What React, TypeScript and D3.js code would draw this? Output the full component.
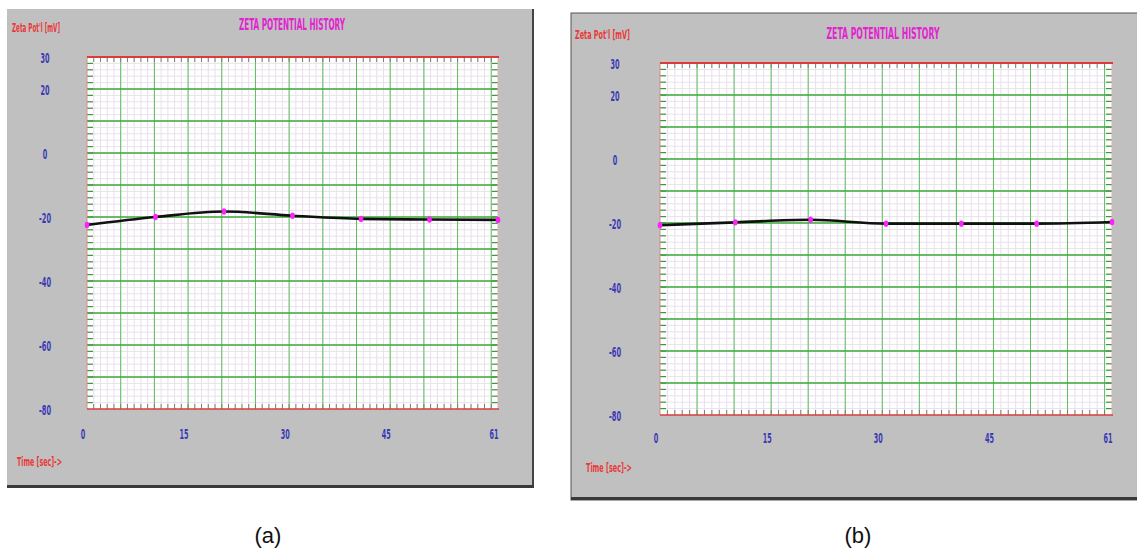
import React from "react";
import * as d3 from "d3";

const timeSec = [0, 10.17, 20.33, 30.5, 40.67, 50.83, 61];
const zetaA = [-22.5, -20.0, -18.3, -19.6, -20.6, -20.8, -20.9];
const zetaB = [-20.7, -19.8, -19.0, -20.2, -20.2, -20.2, -19.7];
const xTickLabels = [0, 15, 30, 45, 61];
const yTickLabels = [30, 20, 0, -20, -40, -60, -80];
const titleText = "ZETA POTENTIAL HISTORY";
const yAxisText = "Zeta Pot'l [mV]";
const xAxisText = "Time [sec]->";
const captions = ["(a)", "(b)"];

const NARROW = "'Liberation Sans Narrow', 'Arial Narrow', 'DejaVu Sans Condensed', 'Liberation Sans', sans-serif";

type Cfg = {
  box: { x: number; y: number; w: number; h: number };
  plot: { x: number; y: number; w: number; h: number };
  title: { cx: number; y: number; w: number };
  yTitle: { x: number; y: number; w: number };
  xTitle: { x: number; y: number; w: number };
  yTickX: number;
  xTickY: number;
  darkBorder: boolean;
};

const cfgA: Cfg = {
  box: { x: 7, y: 9, w: 526, h: 479 },
  plot: { x: 87, y: 57, w: 411, h: 352 },
  title: { cx: 292, y: 24, w: 106 },
  yTitle: { x: 12, y: 27, w: 48 },
  xTitle: { x: 17, y: 461, w: 45 },
  yTickX: 45,
  xTickY: 434,
  darkBorder: false,
};

const cfgB: Cfg = {
  box: { x: 571, y: 13, w: 570, h: 487 },
  plot: { x: 660, y: 63, w: 452, h: 352 },
  title: { cx: 883, y: 33, w: 113 },
  yTitle: { x: 575, y: 34, w: 55 },
  xTitle: { x: 586, y: 467, w: 46 },
  yTickX: 615,
  xTickY: 438,
  darkBorder: true,
};

const labelWidth = (s: string) => {
  let w = 0;
  for (const c of s) w += c === "-" ? 3 : 4.5;
  return w;
};

function Panel({ cfg, values }: { cfg: Cfg; values: number[] }) {
  const { box, plot } = cfg;
  const x = d3.scaleLinear().domain([0, 61]).range([plot.x, plot.x + plot.w]);
  const y = d3.scaleLinear().domain([-80, 30]).range([plot.y + plot.h, plot.y]);
  const minorX = d3.range(1, 61);
  const majorX = d3.range(5, 61, 5);
  const minorY = d3.range(-78, 30, 2);
  const majorY = d3.range(-70, 30, 10);
  const pts = timeSec.map((t, i) => [x(t), y(values[i])] as [number, number]);
  const line = d3.line().curve(d3.curveMonotoneX)(pts) || "";
  const bottom = plot.y + plot.h;
  const right = plot.x + plot.w;

  return (
    <g>
      <rect x={box.x} y={box.y} width={box.w} height={box.h} fill="#c0c0c0"
        stroke={cfg.darkBorder ? "#555" : "none"} strokeWidth={1} />
      {!cfg.darkBorder && (
        <line x1={box.x + box.w} x2={box.x + box.w} y1={box.y} y2={box.y + box.h} stroke="#444" strokeWidth={2} />
      )}
      <rect x={box.x} y={box.y + box.h - 3} width={box.w + 1} height={3} fill="#3a3a3a" />

      <rect x={plot.x} y={plot.y} width={plot.w} height={plot.h} fill="#ffffff" />
      {minorX.map((t) => (
        <line key={"mx" + t} x1={x(t)} x2={x(t)} y1={plot.y} y2={bottom} stroke="#e6e0ea" strokeWidth={1} />
      ))}
      {minorY.map((v) => (
        <line key={"my" + v} x1={plot.x} x2={right} y1={y(v)} y2={y(v)} stroke="#ebe0ec" strokeWidth={1} />
      ))}
      {majorX.map((t) => (
        <line key={"Mx" + t} x1={x(t)} x2={x(t)} y1={plot.y} y2={bottom} stroke="#5cbf5c" strokeWidth={1} />
      ))}
      {majorY.map((v) => (
        <line key={"My" + v} x1={plot.x} x2={right} y1={y(v)} y2={y(v)} stroke="#3aaa3a" strokeWidth={1.5} />
      ))}
      {minorY.map((v) => (
        <g key={"ty" + v}>
          <line x1={plot.x} x2={plot.x + 6} y1={y(v)} y2={y(v)} stroke="#3a9a3a" strokeWidth={1.2} />
          <line x1={right - 6} x2={right} y1={y(v)} y2={y(v)} stroke="#3a9a3a" strokeWidth={1.2} />
        </g>
      ))}
      {minorX.map((t) => (
        <g key={"tx" + t}>
          <line x1={x(t)} x2={x(t)} y1={plot.y} y2={plot.y + 5} stroke="#6a8a6a" strokeWidth={1} />
          <line x1={x(t)} x2={x(t)} y1={bottom - 5} y2={bottom} stroke="#6a8a6a" strokeWidth={1} />
        </g>
      ))}
      <line x1={plot.x} x2={plot.x} y1={plot.y} y2={bottom} stroke="#d88a8a" strokeWidth={1} />
      <line x1={right} x2={right} y1={plot.y} y2={bottom} stroke="#e0b0b0" strokeWidth={1} />
      <line x1={plot.x} x2={right + 1} y1={plot.y} y2={plot.y} stroke="#dd3b3b" strokeWidth={2} />
      <line x1={plot.x} x2={right + 1} y1={bottom} y2={bottom} stroke="#dd3b3b" strokeWidth={1.5} />

      <path d={line} fill="none" stroke="#111" strokeWidth={2.6} />
      {pts.map((p, i) => (
        <ellipse key={"pt" + i} cx={p[0]} cy={p[1]} rx={2.3} ry={3.2} fill="#ff22ff" />
      ))}

      <text x={cfg.title.cx} y={cfg.title.y} textAnchor="middle" dominantBaseline="central"
        fontFamily={NARROW} fontWeight="bold" fontSize={16} fill="#e024d0"
        textLength={cfg.title.w} lengthAdjust="spacingAndGlyphs">{titleText}</text>
      <text x={cfg.yTitle.x} y={cfg.yTitle.y} dominantBaseline="central"
        fontFamily={NARROW} fontWeight="bold" fontSize={13} fill="#e83a3a"
        textLength={cfg.yTitle.w} lengthAdjust="spacingAndGlyphs">{yAxisText}</text>
      <text x={cfg.xTitle.x} y={cfg.xTitle.y} dominantBaseline="central"
        fontFamily={NARROW} fontWeight="bold" fontSize={13} fill="#e83a3a"
        textLength={cfg.xTitle.w} lengthAdjust="spacingAndGlyphs">{xAxisText}</text>
      {yTickLabels.map((v) => (
        <text key={"yl" + v} x={cfg.yTickX} y={y(v) + 1} textAnchor="middle" dominantBaseline="central"
          fontFamily={NARROW} fontWeight="bold" fontSize={14} fill="#3a3ab4"
          textLength={labelWidth(String(v))} lengthAdjust="spacingAndGlyphs">{String(v)}</text>
      ))}
      {xTickLabels.map((v) => (
        <text key={"xl" + v} x={x(v) - 4} y={cfg.xTickY} textAnchor="middle" dominantBaseline="central"
          fontFamily={NARROW} fontWeight="bold" fontSize={14} fill="#3a3ab4"
          textLength={labelWidth(String(v))} lengthAdjust="spacingAndGlyphs">{String(v)}</text>
      ))}
    </g>
  );
}

export default function App() {
  return (
    <svg width={1137} height={550} style={{ position: "absolute", left: 0, top: 0, background: "#fff" }}>
      <rect x={0} y={0} width={1137} height={550} fill="#ffffff" />
      <Panel cfg={cfgA} values={zetaA} />
      <Panel cfg={cfgB} values={zetaB} />
      <text x={268} y={543} textAnchor="middle" fontFamily="'Liberation Sans', Arial, sans-serif" fontSize={22} fill="#111">{captions[0]}</text>
      <text x={858} y={543} textAnchor="middle" fontFamily="'Liberation Sans', Arial, sans-serif" fontSize={22} fill="#111">{captions[1]}</text>
    </svg>
  );
}
